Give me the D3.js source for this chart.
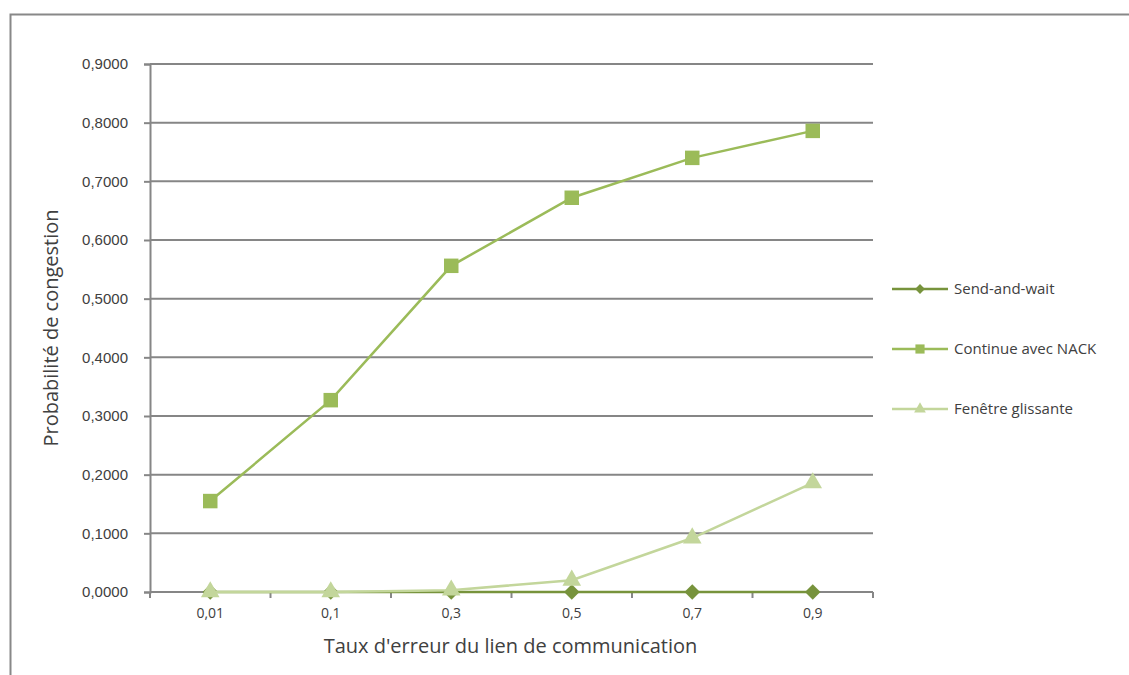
<!DOCTYPE html>
<html>
<head>
<meta charset="utf-8">
<script src="https://cdn.jsdelivr.net/npm/d3@7"></script>
<style>
  html, body { margin: 0; padding: 0; background: #fff; }
  svg { display: block; font-family: "Open Sans", "DejaVu Sans", sans-serif; }
</style>
</head>
<body>
<svg id="chart" width="1129" height="675"></svg>
<script>
// Error rates on the communication link (x categories)
const categories = ["0,01", "0,1", "0,3", "0,5", "0,7", "0,9"];

// Congestion probability per protocol
const sendAndWait = [0, 0, 0, 0, 0, 0];
const continueNack = [0.155, 0.327, 0.556, 0.672, 0.740, 0.786];
const fenetreGlissante = [0, 0, 0.003, 0.020, 0.092, 0.186];

const seriesNames = ["Send-and-wait", "Continue avec NACK", "Fenêtre glissante"];
const yTicks = [0, 0.1, 0.2, 0.3, 0.4, 0.5, 0.6, 0.7, 0.8, 0.9];

const series = [
  { name: seriesNames[0], values: sendAndWait, color: "#77933C", symbol: d3.symbolSquare, size: 120, rotate: 45 },
  { name: seriesNames[1], values: continueNack, color: "#9BBB59", symbol: d3.symbolSquare, size: 210, rotate: 0 },
  { name: seriesNames[2], values: fenetreGlissante, color: "#C3D69B", symbol: d3.symbolTriangle, size: 150, rotate: 0 }
];

const svg = d3.select("#chart");
const plot = { left: 150, right: 873, top: 64, bottom: 592 };
const gridColor = "#868686";
const textColor = "#404040";

// outer chart frame (left and top edges visible)
svg.append("path")
  .attr("d", "M10.5,675 L10.5,14.5 L1129,14.5")
  .attr("fill", "none").attr("stroke", "#888").attr("stroke-width", 2);

const x = d3.scaleBand().domain(categories).range([plot.left, plot.right]);
const y = d3.scaleLinear().domain([0, 0.9]).range([plot.bottom, plot.top]);

const fmt = v => d3.format(".4f")(v).replace(".", ",");

// horizontal gridlines
svg.append("g").selectAll("line").data(yTicks.slice(1)).join("line")
  .attr("x1", plot.left).attr("x2", plot.right)
  .attr("y1", d => y(d)).attr("y2", d => y(d))
  .attr("stroke", gridColor).attr("stroke-width", 2);

// y axis
const yAxis = svg.append("g").attr("transform", `translate(${plot.left},0)`)
  .call(d3.axisLeft(y).tickValues(yTicks).tickFormat(fmt).tickSize(6).tickPadding(16));
yAxis.select(".domain").attr("stroke", gridColor).attr("stroke-width", 2);
yAxis.selectAll(".tick line").attr("stroke", gridColor).attr("stroke-width", 2);
yAxis.selectAll("text").attr("font-size", 15).attr("fill", textColor);

// x axis: ticks on band boundaries
const xAxisG = svg.append("g").attr("transform", `translate(0,${plot.bottom})`);
xAxisG.append("line").attr("x1", plot.left).attr("x2", plot.right)
  .attr("stroke", gridColor).attr("stroke-width", 2);
const boundaries = categories.map(c => x(c)).concat([x(categories[categories.length - 1]) + x.bandwidth()]);
xAxisG.selectAll("line.tk").data(boundaries).join("line").attr("class", "tk")
  .attr("x1", d => d).attr("x2", d => d).attr("y1", 0).attr("y2", 6)
  .attr("stroke", gridColor).attr("stroke-width", 2);
xAxisG.selectAll("text").data(categories).join("text")
  .attr("x", d => x(d) + x.bandwidth() / 2).attr("y", 26)
  .attr("text-anchor", "middle").attr("font-size", 14).attr("fill", textColor)
  .text(d => d);

// axis titles
svg.append("text").attr("x", (plot.left + plot.right) / 2 - 1).attr("y", 653)
  .attr("text-anchor", "middle").attr("font-size", 20).attr("fill", textColor)
  .text("Taux d'erreur du lien de communication");
svg.append("text").attr("transform", "translate(58,328) rotate(-90)")
  .attr("text-anchor", "middle").attr("font-size", 20).attr("fill", textColor)
  .text("Probabilité de congestion");

const cx = (d, i) => x(categories[i]) + x.bandwidth() / 2;
const line = d3.line().x(cx).y(d => y(d));

// series drawn in legend order, later ones on top
series.forEach(s => {
  const g = svg.append("g");
  g.append("path").datum(s.values).attr("d", line)
    .attr("fill", "none").attr("stroke", s.color).attr("stroke-width", 2.5);
  g.selectAll("path.m").data(s.values).join("path").attr("class", "m")
    .attr("transform", (d, i) => `translate(${cx(d, i)},${y(d)}) rotate(${s.rotate})`)
    .attr("d", d3.symbol().type(s.symbol).size(s.size))
    .attr("fill", s.color);
});

// legend
const legendY = [289, 349, 409];
const legend = svg.append("g");
series.forEach((s, i) => {
  const g = legend.append("g").attr("transform", `translate(0,${legendY[i]})`);
  g.append("line").attr("x1", 892).attr("x2", 948).attr("y1", 0).attr("y2", 0)
    .attr("stroke", s.color).attr("stroke-width", 2.5);
  g.append("path").attr("transform", `translate(920,0) rotate(${s.rotate})`)
    .attr("d", d3.symbol().type(s.symbol).size(s.size * 0.4)).attr("fill", s.color);
  g.append("text").attr("x", 954).attr("y", 5).attr("font-size", 15)
    .attr("fill", textColor).text(s.name);
});
</script>
</body>
</html>
